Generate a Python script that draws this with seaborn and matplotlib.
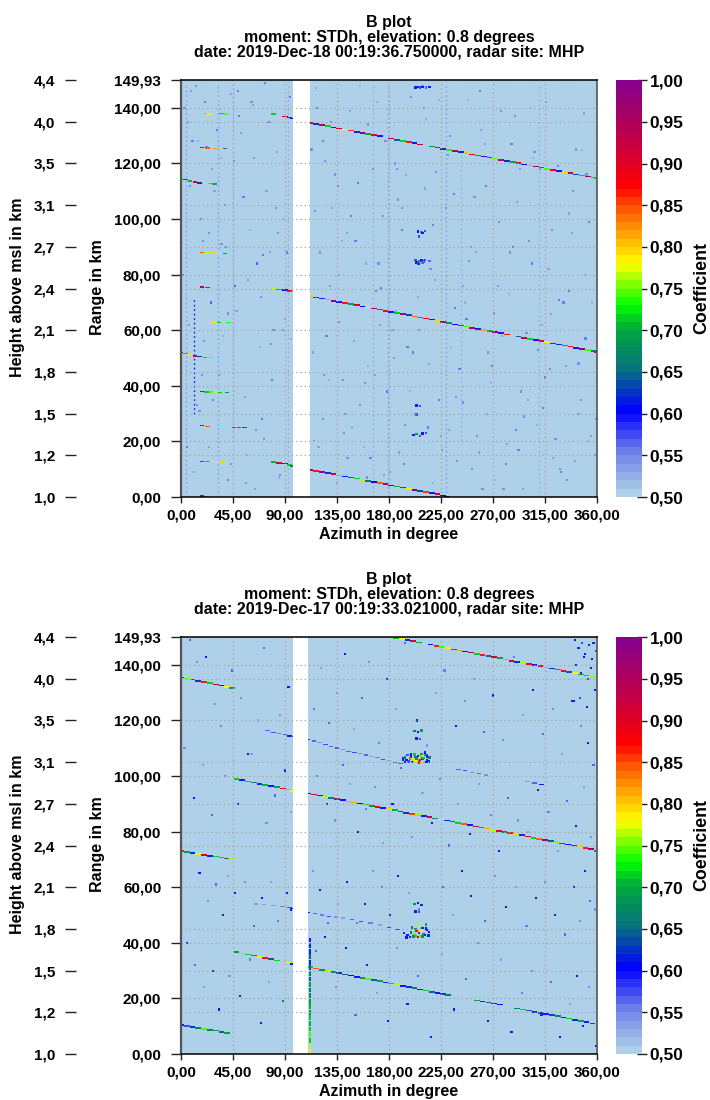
import numpy as np
import pandas as pd
import matplotlib
matplotlib.use('Agg')
import matplotlib.pyplot as plt
from matplotlib.cm import ScalarMappable
from matplotlib.colors import LinearSegmentedColormap, Normalize
from matplotlib.path import Path
import seaborn as sns

# azimuth / range axes
az_ticks = [0, 45, 90, 135, 180, 225, 270, 315, 360]
range_ticks = [0, 20, 40, 60, 80, 100, 120, 140, 149.93]
height_pos = [0, 15, 30, 45, 60, 75, 90, 105, 120, 135, 149.93]
height_labels = ['1,0', '1,2', '1,5', '1,8', '2,1', '2,4', '2,7', '3,1', '3,5', '4,0', '4,4']
cb_ticks = [0.5, 0.55, 0.6, 0.65, 0.7, 0.75, 0.8, 0.85, 0.9, 0.95, 1.0]

# coefficient colours
cb_stops = [0.0, 0.1, 0.2, 0.3, 0.4, 0.46, 0.56, 0.7, 0.75, 0.86, 1.0]
cb_colors = ['#aed0e8', '#6f80e8', '#0000ff', '#077080', '#00a83c', '#00ff00', '#ffff00',
             '#ff5000', '#ff0000', '#c40044', '#88008a']

# ---- upper panel, 2019-Dec-18 ----
title_top = 'B plot\nmoment: STDh, elevation: 0.8 degrees\ndate: 2019-Dec-18 00:19:36.750000, radar site: MHP'
gap_top = (97.1, 111.3)

a_az = [112,117,122,127,132,137,142,147,152,157,162,167,172,177,182,187,192,197,202,207,212,217,222,227,232,237,242,247,252,257,262,267,272,277,282,287,292,297,302,307,312,317,322,327,332,337,342,347,352,357,360]
a_rng = [134.6,134.2,133.8,133.4,133.0,132.6,132.2,131.8,131.4,131.0,130.6,130.2,129.8,129.4,129.0,128.5,128.1,127.7,127.3,126.9,126.5,126.1,125.7,125.3,124.9,124.5,124.1,123.7,123.3,122.9,122.5,122.1,121.7,121.3,120.9,120.5,120.1,119.7,119.3,118.9,118.5,118.1,117.7,117.3,116.9,116.5,116.1,115.7,115.3,114.9,114.6]
a_val = [0.88,0.62,0.95,0.72,0.60,0.90,0.78,0.85,0.62,0.98,0.70,0.88,0.60,0.79,0.93,0.64,0.72,0.86,0.60,0.92,0.76,0.67,0.88,0.60,0.73,0.96,0.62,0.80,0.90,0.68,0.60,0.86,0.75,0.94,0.62,0.70,0.89,0.61,0.82,0.97,0.66,0.74,0.88,0.60,0.79,0.92,0.63,0.72,0.96,0.84,0.72]

b_az = [112,117,122,127,132,137,142,147,152,157,162,167,172,177,182,187,192,197,202,207,212,217,222,227,232,237,242,247,252,257,262,267,272,277,282,287,292,297,302,307,312,317,322,327,332,337,342,347,352,357,360]
b_rng = [72.2,71.8,71.4,71.0,70.6,70.2,69.8,69.4,69.0,68.6,68.2,67.8,67.4,67.0,66.6,66.2,65.8,65.4,65.0,64.6,64.2,63.8,63.3,62.9,62.5,62.1,61.7,61.3,60.9,60.5,60.1,59.7,59.3,58.9,58.5,58.1,57.7,57.3,56.9,56.5,56.1,55.7,55.3,54.9,54.5,54.1,53.7,53.3,52.9,52.5,52.1]
b_val = [0.80,0.92,0.62,0.74,0.97,0.60,0.86,0.70,0.91,0.61,0.78,0.94,0.66,0.88,0.60,0.72,0.96,0.63,0.84,0.71,0.90,0.60,0.79,0.95,0.68,0.61,0.88,0.74,0.93,0.62,0.82,0.70,0.98,0.60,0.86,0.76,0.64,0.92,0.72,0.60,0.89,0.78,0.95,0.62,0.70,0.87,0.60,0.97,0.74,0.66,0.88]

c_az = [112,117,122,127,132,137,142,147,152,157,162,167,172,177,182,187,192,197,202,207,212,217,222,227,230]
c_rng = [9.8,9.4,9.0,8.6,8.2,7.8,7.4,7.0,6.6,6.2,5.8,5.4,5.0,4.6,4.2,3.8,3.4,3.0,2.6,2.2,1.8,1.4,1.0,0.6,0.2]
c_val = [0.92,0.86,0.97,0.62,0.90,0.74,0.60,0.88,0.72,0.79,0.65,0.61,0.84,0.94,0.60,0.71,0.89,0.77,0.98,0.63,0.85,0.60,0.91,0.61,0.60]

d_az = [80,85,90,94,97, 80,85,90,94,97, 80,85,90,94,97]
d_rng = [137.7,137.3,136.9,136.5,136.2, 75.0,74.7,74.4,74.1,73.9, 12.6,12.3,12.0,11.5,11.2]
d_val = [0.72,0.79,0.92,0.62,0.60, 0.76,0.70,0.61,0.88,0.72, 0.71,0.90,0.62,0.72,0.66]

e_az = [0,4,8,12,16, 25,29, 0,4,8,12,16,21,26, 18,23,30,38, 18,23,28,33,38, 18,22,26,31,34,40, 18,23, 18,23, 18,23,27,31,36, 18,22, 46,50,55, 28,33,41, 22,24,35,39]
e_rng = [114.4,114.1,113.7,113.3,113.0, 112.8,112.6, 52.0,51.5,51.2,50.7,50.5,50.3,50.2, 125.7,125.6,125.5,125.4, 87.9,87.8,87.8,87.7,87.7, 37.9,37.8,37.8,37.7,37.7,37.6, 75.6,75.4, 25.6,25.4, 12.8,12.8,12.8,12.7,12.6, 0.4,0.3, 25.0,25.0,25.0, 62.9,62.7,62.7, 138.0,137.8,137.9,137.8]
e_val = [0.74,0.95,0.71,0.90,0.62, 0.73,0.71, 0.95,0.72,0.78,0.88,0.62,0.84,0.82, 0.90,0.84,0.82,0.66, 0.84,0.76,0.79,0.78,0.71, 0.95,0.72,0.74,0.76,0.72,0.70, 0.92,0.65, 0.92,0.84, 0.90,0.72,0.78,0.77,0.79, 0.96,0.84, 0.68,0.66,0.64, 0.78,0.72,0.73, 0.82,0.78,0.72,0.74]

blob_az_top = [203,205,207,209,212,215, 204,206,208,210, 205,208,211, 204,207,201,204,207,209,212, 205,208,211,215,203,206,209, 206,209,204]
blob_rng_top = [147.4,147.6,147.3,147.5,147.4,147.6, 84.4,84.8,85.1,84.7, 95.5,95.3,95.7, 32.9,32.7,22.3,22.7,22.0,22.8,23.0, 84.1,84.9,85.3,85.0,85.2,83.9,84.4, 93.8,95.0,29.6]
blob_val_top = [0.60,0.62,0.58,0.60,0.57,0.60, 0.60,0.71,0.60,0.58, 0.60,0.70,0.58, 0.60,0.58,0.60,0.70,0.58,0.60,0.58, 0.58,0.60,0.58,0.56,0.58,0.60,0.57, 0.58,0.60,0.58]

stripe_az_top = [4, 32, 45, 93, 166, 179, 229, 242, 310]
stripe_lo_top = [0, 0, 20, 0, 0, 0, 0, 20, 0]
stripe_hi_top = [149, 149, 149, 149, 149, 149, 149, 125, 149]
stripe_val_top = [0.53, 0.53, 0.52, 0.52, 0.52, 0.53, 0.53, 0.52, 0.52]
hot_stripe_az = [11.5]
hot_stripe_lo = [30]
hot_stripe_hi = [72]
hot_stripe_val = [0.60]

noise_az_top = [9,15,21,27,38,52,60,66,74,83,117,125,131,139,146,153,160,170,175,186,195,212,220,236,248,255,263,275,284,291,302,318,326,338,349,356,
                7,18,26,36,48,55,68,79,90,114,128,142,150,158,168,183,193,198,215,225,238,246,258,268,278,290,300,312,322,333,344,352,
                11,24,41,57,64,72,85,119,135,148,164,176,189,218,232,252,272,282,296,308,329,341,355,
                6,19,35,47,62,77,88,123,137,155,172,191,211,223,244,260,287,305,320,336,350,
                14,29,43,70,95,115,144,162,185,205,234,265,293,315,347]
noise_rng_top = [146,128,142,118,105,131,96,84,110,124,147,121,104,92,139,113,84,142,101,67,116,136,78,109,143,88,127,99,73,106,140,82,119,95,138,70,
                 62,44,70,58,67,36,54,42,64,52,42,30,56,18,44,60,12,38,48,22,36,70,16,41,58,24,35,62,14,47,30,20,
                 9,18,6,15,3,21,7,18,5,25,14,8,16,5,24,10,6,19,3,26,9,13,22,
                 135,92,122,76,141,88,100,128,80,148,62,104,111,143,76,132,90,122,66,102,80,
                 33,110,145,28,57,20,95,47,120,72,54,30,118,43,125]
noise_val_top = [0.53,0.52,0.55,0.53,0.54,0.53,0.52,0.56,0.53,0.53,0.52,0.54,0.53,0.52,0.53,0.55,0.53,0.52,0.54,0.53,0.53,0.52,0.53,0.55,0.52,0.53,0.53,0.54,0.52,0.53,0.52,0.53,0.55,0.53,0.53,0.52,
                 0.53,0.54,0.56,0.52,0.53,0.53,0.52,0.55,0.53,0.53,0.52,0.54,0.53,0.52,0.53,0.53,0.55,0.52,0.53,0.53,0.54,0.52,0.53,0.52,0.53,0.55,0.53,0.52,0.53,0.54,0.53,0.52,
                 0.53,0.53,0.55,0.52,0.53,0.54,0.52,0.53,0.53,0.52,0.55,0.53,0.53,0.52,0.53,0.54,0.52,0.53,0.53,0.52,0.55,0.53,0.53,
                 0.53,0.54,0.52,0.56,0.53,0.53,0.52,0.55,0.53,0.52,0.53,0.54,0.53,0.52,0.53,0.53,0.55,0.52,0.53,0.53,0.52,
                 0.54,0.53,0.53,0.55,0.52,0.53,0.53,0.52,0.54,0.53,0.52,0.53,0.53,0.55,0.52]

faint_az_top = [3,10,17,24,31,39,46,54,61,69,76,82,88,94,113,120,126,133,140,147,155,162,169,177,184,191,199,206,214,221,229,237,244,251,259,266,274,281,289,297,304,311,319,327,334,342,350,358,
                5,13,20,28,35,43,50,58,65,73,80,86,92,116,123,130,137,144,151,159,166,173,181,188,196,203,210,218,226,233,241,249,256,264,271,279,286,294,301,309,316,324,331,339,346,353,
                2,8,16,22,33,41,49,56,63,71,78,84,118,124,129,136,141,149,156,161,171,178,187,194,201,209,216,223,231,239,247,254,261,269,277,285,292,299,306,313,321,328,336,344,351,359]
faint_rng_top = [140,128,100,95,132,90,121,108,142,72,135,104,60,144,125,88,58,116,42,101,33,134,74,128,50,96,144,60,25,117,104,68,34,90,146,52,76,12,137,29,84,118,46,71,6,125,57,15,
                 18,148,56,35,91,12,137,78,24,149,60,8,88,103,28,135,63,14,92,41,118,75,9,107,54,30,140,98,17,130,46,85,22,112,66,3,127,38,92,53,142,21,70,110,35,99,
                 80,112,31,126,44,66,146,5,122,87,55,95,140,44,76,112,23,69,131,7,84,38,118,26,52,148,82,35,123,13,64,108,3,47,139,88,17,59,124,32,96,10,74,48,116,28]
faint_val_top = [0.54,0.55,0.54,0.54,0.55,0.54,0.54,0.55,0.54,0.54,0.55,0.54,0.54,0.55,0.54,0.54,0.55,0.54,0.54,0.55,0.54,0.54,0.55,0.54,0.54,0.55,0.54,0.54,0.55,0.54,0.54,0.55,0.54,0.54,0.55,0.54,0.54,0.55,0.54,0.54,0.55,0.54,0.54,0.55,0.54,0.54,0.55,0.54,
                 0.55,0.54,0.54,0.55,0.54,0.54,0.55,0.54,0.54,0.55,0.54,0.54,0.55,0.54,0.54,0.55,0.54,0.54,0.55,0.54,0.54,0.55,0.54,0.54,0.55,0.54,0.54,0.55,0.54,0.54,0.55,0.54,0.54,0.55,0.54,0.54,0.55,0.54,0.54,0.55,0.54,0.54,0.55,0.54,0.54,0.55,0.54,0.54,
                 0.54,0.55,0.54,0.54,0.55,0.54,0.54,0.55,0.54,0.54,0.55,0.54,0.54,0.55,0.54,0.54,0.55,0.54,0.54,0.55,0.54,0.54,0.55,0.54,0.54,0.55,0.54,0.54,0.55,0.54,0.54,0.55,0.54,0.54,0.55,0.54,0.54,0.55,0.54,0.54,0.55,0.54,0.54,0.55,0.54,0.54]

# ---- lower panel, 2019-Dec-17 ----
title_bot = 'B plot\nmoment: STDh, elevation: 0.8 degrees\ndate: 2019-Dec-17 00:19:33.021000, radar site: MHP'
gap_bot = (97.1, 110.0)

f_az = [186,191,196,201,206,211,216,221,226,231,236,241,246,251,256,261,266,271,276,281,286,291,296,301,306,311,316,321,326,331,336,341,346,351,356]
f_rng = [149.7,149.3,148.9,148.5,148.1,147.7,147.3,146.9,146.5,146.0,145.6,145.2,144.8,144.4,144.0,143.6,143.2,142.8,142.4,141.9,141.5,141.1,140.7,140.3,139.9,139.5,139.1,138.7,138.3,137.9,137.4,137.0,136.6,136.2,135.7]
f_val = [0.72,0.78,0.62,0.90,0.70,0.76,0.61,0.86,0.74,0.78,0.66,0.81,0.60,0.95,0.72,0.86,0.64,0.90,0.70,0.82,0.93,0.62,0.76,0.88,0.60,0.91,0.74,0.62,0.70,0.88,0.64,0.78,0.71,0.84,0.75]

g_az = [110,115,120,125,130,135,140,145,150,155,160,165,170,175,180,185,190,195,200,205,210,215,220,225,230,235,240,245,250,255,260,265,270,275,280,285,290,295,300,305,310,315,320,325,330,335,340,345,350,355,360]
g_rng = [93.8,93.4,93.0,92.6,92.2,91.8,91.3,90.9,90.5,90.1,89.7,89.3,88.9,88.5,88.1,87.7,87.2,86.8,86.4,86.0,85.6,85.2,84.8,84.4,84.0,83.6,83.2,82.7,82.3,81.9,81.5,81.1,80.7,80.3,79.9,79.5,79.1,78.7,78.2,77.8,77.4,77.0,76.6,76.2,75.8,75.4,75.0,74.6,74.2,73.7,73.1]
g_val = [0.62,0.90,0.60,0.76,0.66,0.92,0.60,0.74,0.82,0.61,0.72,0.68,0.88,0.60,0.79,0.71,0.93,0.62,0.85,0.75,0.60,0.90,0.68,0.78,0.62,0.88,0.72,0.84,0.60,0.95,0.70,0.82,0.76,0.90,0.66,0.86,0.79,0.62,0.91,0.72,0.84,0.97,0.64,0.75,0.88,0.60,0.92,0.78,0.86,0.96,0.70]

h_az = [0,5,10,15,20,25,30,35,40,44, 0,5,10,15,20,25,30,35,40,44, 48,53,58,63,68,73,78,83,88,93,97, 48,53,58,63,68,73,78,83,88,93,97]
h_rng = [135.5,135.1,134.7,134.3,133.8,133.4,133.0,132.6,132.1,131.7, 73.0,72.7,72.3,72.0,71.6,71.3,71.0,70.7,70.3,70.1, 99.0,98.6,98.1,97.7,97.2,96.8,96.4,96.0,95.5,95.1,94.6, 36.6,36.2,35.8,35.4,35.0,34.6,34.1,33.7,33.3,32.9,32.4]
h_val = [0.92,0.74,0.88,0.62,0.86,0.72,0.95,0.60,0.78,0.70, 0.86,0.70,0.62,0.78,0.90,0.60,0.72,0.84,0.66,0.76, 0.72,0.60,0.84,0.66,0.62,0.71,0.60,0.70,0.88,0.74,0.78, 0.68,0.80,0.72,0.66,0.78,0.86,0.64,0.72,0.80,0.77,0.60]

j_az = [112,117,122,127,132,137,142,147,152,157,162,167,172,177,182,187,192,197,202,207,212,217,222,227,231, 256,261,266,271,276, 291,296,301,306,311,316,321,326,331,336,341,346,351,356, 0,5,10,15,20,25,30,35,40]
j_rng = [31.2,30.8,30.3,29.9,29.5,29.1,28.6,28.2,27.8,27.4,27.0,26.6,26.2,25.7,25.3,24.9,24.5,24.1,23.7,23.2,22.8,22.4,22.0,21.6,21.2, 19.2,18.9,18.5,18.1,17.8, 16.3,16.0,15.6,15.2,14.8,14.4,14.0,13.6,13.2,12.8,12.3,11.9,11.5,11.0, 10.4,10.1,9.8,9.4,9.1,8.7,8.4,8.0,7.6]
j_val = [0.72,0.84,0.68,0.76,0.66,0.62,0.64,0.61,0.60,0.70,0.74,0.64,0.70,0.62,0.72,0.76,0.60,0.62,0.66,0.60,0.72,0.64,0.60,0.62,0.66, 0.70,0.62,0.64,0.60,0.61, 0.66,0.72,0.64,0.60,0.62,0.60,0.63,0.66,0.60,0.72,0.62,0.70,0.60,0.59, 0.60,0.58,0.62,0.66,0.74,0.66,0.70,0.64,0.70]

k_az = [75,80,85,90,94,97, 110,115,120,125,130,135,140,145,150,155,160,165,170,175,180,185,190, 240,246,252,258,264,300,306,312, 65,72,80,88,94,97, 110,116,122,128,134,140,148,156,164,172,180,188]
k_rng = [116.3,115.8,115.4,114.9,114.4,114.1, 113.2,112.6,112.0,111.4,110.7,110.1,109.5,108.9,108.4,108.0,107.6,107.0,106.6,106.0,105.6,105.0,104.4, 102.4,102.0,101.3,100.8,100.4,98.0,97.5,97.0, 54.0,53.8,53.5,53.0,52.6,52.3, 50.8,50.5,50.0,49.6,49.3,48.9,48.4,47.8,47.1,46.4,45.6,44.9]
k_val = [0.56,0.58,0.55,0.58,0.60,0.65, 0.64,0.57,0.54,0.58,0.56,0.58,0.54,0.56,0.58,0.54,0.56,0.53,0.55,0.58,0.54,0.58,0.56, 0.56,0.58,0.54,0.56,0.54,0.53,0.56,0.60, 0.53,0.54,0.53,0.55,0.58,0.60, 0.60,0.56,0.55,0.58,0.54,0.53,0.56,0.58,0.55,0.53,0.58,0.60]

blob_az_bot = [192,194,197,199,201,203,205,207,209,211,213,215, 194,197,200,203,206,209,212,214, 196,199,202,205,208,211,213, 192,195,198,201,204,207,210,213, 202,205,208,204,207,
               193,196,199,202,204,206,208,210,212,214, 195,198,201,203,205,207,209,211,213, 200,203,206,209,212, 202,205,208,203,206]
blob_rng_bot = [106.0,106.6,105.4,106.9,105.6,106.8,105.9,107.2,106.3,107.8,105.8,106.6, 105.0,105.3,105.0,105.2,104.9,105.1,105.0,105.3, 107.5,107.7,107.8,107.3,108.0,108.4,107.6, 106.3,105.7,106.4,106.0,106.3,105.8,106.5,107.0, 116.2,115.9,116.4,113.6,113.4,
                43.5,42.9,43.8,43.0,44.2,43.5,44.5,43.2,45.2,42.7, 42.0,42.1,42.2,42.4,42.1,42.5,42.2,42.8,44.6, 45.6,45.0,46.2,45.4,46.6, 53.9,54.3,53.7,51.2,51.0]
blob_val_bot = [0.60,0.66,0.60,0.62,0.72,0.58,0.82,0.74,0.88,0.70,0.60,0.66, 0.60,0.58,0.60,0.78,0.92,0.80,0.60,0.62, 0.58,0.60,0.72,0.62,0.70,0.60,0.58, 0.62,0.60,0.84,0.76,0.68,0.90,0.72,0.60, 0.66,0.60,0.70,0.60,0.58,
                0.62,0.60,0.66,0.74,0.88,0.92,0.78,0.70,0.60,0.62, 0.60,0.62,0.58,0.72,0.88,0.74,0.68,0.62,0.60, 0.66,0.70,0.76,0.62,0.71, 0.68,0.60,0.62,0.60,0.58]

stripe_rng_bot = [41,39,37,35,33,31,29,27,25,23,21,19,17,15,13,11,9,7,5,3,1]
stripe_val_bot = [0.60,0.62,0.62,0.64,0.62,0.64,0.66,0.64,0.70,0.66,0.68,0.70,0.71,0.68,0.72,0.71,0.72,0.74,0.72,0.76,0.78]
stripe_az_bot = [112]

noise_az_bot = [8,14,22,29,35,44,52,58,67,72,86,93,115,121,128,135,142,150,157,163,171,178,186,194,204,213,221,228,238,246,254,262,270,279,288,296,305,313,322,330,338,346,352,357,
                3,11,19,27,38,49,61,74,81,90,95,118,126,133,140,146,153,160,168,175,183,190,200,209,217,224,232,240,250,258,268,275,283,292,300,309,318,326,334,342,349,355,
                16,23,30,36,41,47,55,63,70,78,84,92,95,114,120,127,136,144,152,159,166,174,181,188,197,206,215,227,235,243,251,263,272,281,290,299,307,315,324,332,340,345,350,354,358,
                5,12,20,28,33,42,51,60,69,76,88,117,125,134,143,151,161,170,179,187,196,205,216,226,236,247,257,266,277,286,295,304,312,320,328,337,343,348,353,359,
                341,344,347,350,353,356,359,342,346,349,352,355,358,340,345,351,357]
noise_rng_bot = [149,141,143,126,118,138,128,108,120,146,122,132,124,139,119,130,144,117,128,141,112,135,124,148,120,111,130,138,118,127,135,116,129,113,143,122,131,115,124,108,127,118,112,104,
                 110,92,104,86,100,90,108,83,93,102,87,100,90,84,104,97,80,88,96,76,90,103,78,94,83,99,75,90,79,97,86,73,92,84,80,95,87,73,91,82,96,78,
                 65,55,61,50,64,58,62,46,56,62,48,58,52,66,59,47,54,62,47,54,66,60,50,64,58,52,44,60,50,66,57,48,64,53,60,46,56,62,50,43,60,48,66,55,52,
                 40,32,24,30,16,28,21,34,11,26,19,37,42,24,38,14,32,22,12,38,18,28,6,36,16,27,40,12,34,8,22,30,14,26,6,18,28,10,24,3,
                 149,146,148,144,147,142,145,140,137,143,135,139,131,127,128,125,148]
noise_val_bot = [0.56,0.54,0.60,0.53,0.55,0.57,0.54,0.60,0.53,0.56,0.54,0.60,0.55,0.53,0.57,0.54,0.60,0.53,0.56,0.54,0.55,0.60,0.53,0.56,0.62,0.54,0.53,0.55,0.60,0.54,0.53,0.56,0.60,0.54,0.55,0.53,0.60,0.56,0.54,0.53,0.60,0.55,0.60,0.56,
                 0.54,0.60,0.53,0.56,0.55,0.60,0.53,0.54,0.56,0.60,0.53,0.55,0.60,0.54,0.56,0.53,0.60,0.55,0.54,0.53,0.60,0.56,0.54,0.53,0.60,0.55,0.56,0.54,0.60,0.53,0.55,0.60,0.56,0.54,0.53,0.60,0.55,0.54,0.56,0.60,0.53,0.54,
                 0.60,0.54,0.56,0.62,0.53,0.60,0.54,0.56,0.60,0.53,0.55,0.60,0.62,0.54,0.60,0.56,0.53,0.60,0.55,0.60,0.54,0.56,0.62,0.60,0.53,0.55,0.60,0.56,0.53,0.60,0.60,0.56,0.54,0.60,0.53,0.55,0.60,0.54,0.62,0.56,0.60,0.54,0.60,0.56,0.54,
                 0.60,0.56,0.53,0.62,0.60,0.54,0.60,0.55,0.60,0.53,0.66,0.56,0.60,0.54,0.60,0.56,0.62,0.53,0.60,0.54,0.60,0.56,0.62,0.53,0.60,0.56,0.54,0.60,0.53,0.60,0.55,0.54,0.62,0.56,0.60,0.53,0.60,0.62,0.54,0.60,
                 0.60,0.62,0.58,0.60,0.62,0.60,0.58,0.62,0.60,0.60,0.58,0.62,0.60,0.60,0.58,0.60,0.62]

sns.set_theme(style='white')
plt.rcParams['font.family'] = ['Liberation Sans']
plt.rcParams['font.weight'] = 'bold'
plt.rcParams['axes.labelweight'] = 'bold'
plt.rcParams['axes.titleweight'] = 'bold'
plt.rcParams['text.color'] = 'black'
plt.rcParams['axes.labelcolor'] = 'black'
plt.rcParams['xtick.color'] = 'black'
plt.rcParams['ytick.color'] = 'black'

cmap = LinearSegmentedColormap.from_list('coef', list(zip(cb_stops, cb_colors)), N=50)
norm = Normalize(0.5, 1.0)
# flat dash along the radial streaks
dash = Path([(-1, -0.28), (1, -0.28), (1, 0.28), (-1, 0.28), (-1, -0.28)], closed=True)
bar = Path([(-0.4, -1), (0.4, -1), (0.4, 1), (-0.4, 1), (-0.4, -1)], closed=True)


def comma(values, digits):
    return [f'{v:.{digits}f}'.replace('.', ',') for v in values]


def marks(ax, az, rng, val, marker, size):
    # hand-read lists: only keep points that have all three readings
    n = min(len(az), len(rng), len(val))
    df = pd.DataFrame({'az': az[:n], 'rng': rng[:n], 'val': val[:n]})
    sns.scatterplot(data=df, x='az', y='rng', hue='val', hue_norm=(0.5, 1.0), palette=cmap,
                    marker=marker, s=size, linewidth=0, legend=False, ax=ax)
    ax.set_xlabel('')
    ax.set_ylabel('')


def draw_panel(top_px, title, gap, streaks, bits, blobs, noise, faint, stripes):
    ax = fig.add_axes([181 / 710, 1 - (top_px + 416.7) / 1100, 416 / 710, 416.7 / 1100])
    ax.set_facecolor(cb_colors[0])
    for az, lo, hi, v in stripes:
        ax.vlines(az, lo, hi, color=cmap(norm(v)), lw=0.9, ls=(0, (1.4, 2.2)), zorder=0.5)
    if faint is not None:
        marks(ax, *faint, 's', 2.6)
    marks(ax, *noise, 's', 2.3)
    marks(ax, *blobs, 's', 3.2)
    marks(ax, *bits, dash, 10)
    for az, rng, val in streaks:
        marks(ax, az, rng, val, dash, 17)
    ax.axvspan(gap[0], gap[1], color='white', lw=0, zorder=1.5)
    ax.set_xlim(0, 360)
    ax.set_ylim(0, 149.93)
    ax.set_xticks(az_ticks, labels=comma(az_ticks, 2))
    ax.set_yticks(range_ticks, labels=comma(range_ticks, 2))
    ax.set_yticks(height_pos[:-1], minor=True)
    ax.set_xlabel('Azimuth in degree', fontsize=11.5, labelpad=3)
    ax.set_title(title, fontsize=11.5, linespacing=1.0, pad=17)
    ax.grid(True, which='both', color='#a4a4a4', ls=(0, (1, 2.4)), lw=0.9)
    ax.set_axisbelow(False)
    ax.tick_params(axis='x', which='major', length=4.2, width=1, color='#222222', labelsize=11, pad=4, bottom=True)
    ax.tick_params(axis='y', which='major', length=7.2, width=1, color='#222222', labelsize=11, pad=7, left=True)
    ax.tick_params(axis='y', which='minor', length=0)
    for side, c, w in [('left', '#555555', 1.6), ('right', '#555555', 1.2), ('top', 'black', 1.1), ('bottom', 'black', 1.1)]:
        ax.spines[side].set_color(c)
        ax.spines[side].set_linewidth(w)
        ax.spines[side].set_zorder(4)

    sec = ax.secondary_yaxis(-0.253)
    sec.set_yticks(height_pos, labels=height_labels)
    sec.spines['left'].set_visible(False)
    sec.tick_params(axis='y', length=7.8, width=1, color='#222222', labelsize=11, pad=7, left=True)

    fig.text(18 / 710, 1 - (top_px + 207) / 1100, 'Height above msl in km', rotation=90, ha='center', va='center', fontsize=11.5)
    fig.text(97 / 710, 1 - (top_px + 207) / 1100, 'Range in km', rotation=90, ha='center', va='center', fontsize=11.5)

    cax = fig.add_axes([616 / 710, 1 - (top_px + 416.7) / 1100, 26.3 / 710, 416.7 / 1100])
    cb = fig.colorbar(ScalarMappable(norm=norm, cmap=cmap), cax=cax)
    cb.set_ticks(cb_ticks, labels=comma(cb_ticks, 2))
    cb.outline.set_visible(False)
    cb.ax.tick_params(direction='inout', length=6.5, width=1, color='#222222', labelsize=12.5, pad=2)
    fig.text(702 / 710, 1 - (top_px + 208) / 1100, 'Coefficient', rotation=90, ha='center', va='center', fontsize=12.8)
    return ax


fig = plt.figure(figsize=(7.1, 11), dpi=100)

streaks_top = [(a_az, a_rng, a_val), (b_az, b_rng, b_val), (c_az, c_rng, c_val), (d_az, d_rng, d_val)]
stripes_top = list(zip(stripe_az_top, stripe_lo_top, stripe_hi_top, stripe_val_top)) + list(zip(hot_stripe_az, hot_stripe_lo, hot_stripe_hi, hot_stripe_val))
ax1 = draw_panel(80.3, title_top, gap_top, streaks_top, (e_az, e_rng, e_val), (blob_az_top, blob_rng_top, blob_val_top),
                 (noise_az_top, noise_rng_top, noise_val_top), (faint_az_top, faint_rng_top, faint_val_top), stripes_top)
ax1.set_xlabel('Azimuth in degree', fontsize=11.5, labelpad=3)

streaks_bot = [(f_az, f_rng, f_val), (g_az, g_rng, g_val), (h_az, h_rng, h_val), (j_az, j_rng, j_val)]
ax2 = draw_panel(637.3, title_bot, gap_bot, streaks_bot, (k_az, k_rng, k_val), (blob_az_bot, blob_rng_bot, blob_val_bot),
                 (noise_az_bot, noise_rng_bot, noise_val_bot), None, [])
marks(ax2, stripe_az_bot * len(stripe_rng_bot), stripe_rng_bot, stripe_val_bot, bar, 12)
ax2.set_xlabel('Azimuth in degree', fontsize=11.5, labelpad=3)

fig.savefig('out.png', dpi=100)
